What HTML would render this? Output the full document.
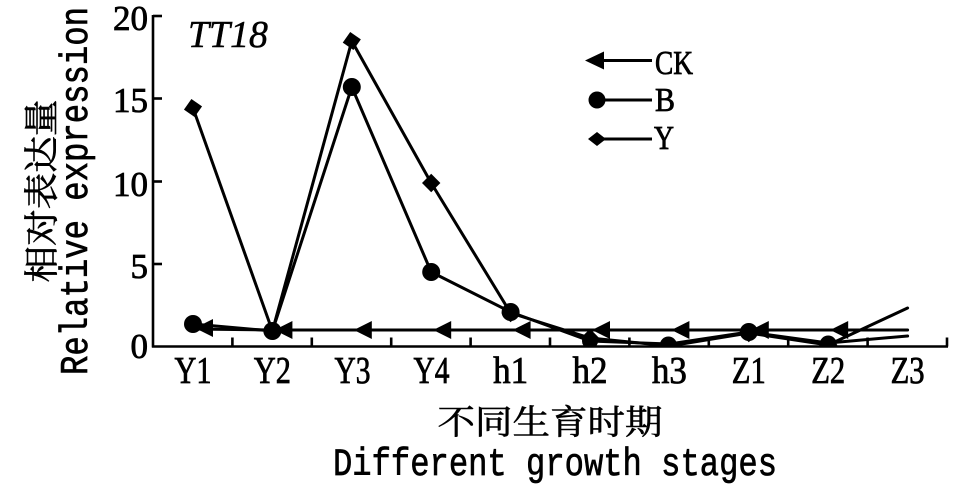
<!DOCTYPE html>
<html>
<head>
<meta charset="utf-8">
<style>
html,body{margin:0;padding:0;background:#fff;}
svg{display:block;}
</style>
</head>
<body>
<svg width="957" height="495" viewBox="0 0 957 495" xmlns="http://www.w3.org/2000/svg">
<defs>
<clipPath id="pc"><rect x="153" y="0" width="800" height="345.5"/></clipPath>
</defs>
<rect width="957" height="495" fill="#fff"/>

<!-- axes -->
<g stroke="#000" stroke-width="2.6" fill="none">
<line x1="153" y1="15" x2="153" y2="347.5"/>
<line x1="152" y1="346.5" x2="948" y2="346.5"/>
<line x1="153" y1="16" x2="162" y2="16"/>
<line x1="153" y1="98.5" x2="162" y2="98.5"/>
<line x1="153" y1="181.5" x2="162" y2="181.5"/>
<line x1="153" y1="264" x2="162" y2="264"/>
<line x1="232.4" y1="346.5" x2="232.4" y2="337.5"/>
<line x1="311.8" y1="346.5" x2="311.8" y2="337.5"/>
<line x1="391.2" y1="346.5" x2="391.2" y2="337.5"/>
<line x1="470.6" y1="346.5" x2="470.6" y2="337.5"/>
<line x1="550" y1="346.5" x2="550" y2="337.5"/>
<line x1="629.4" y1="346.5" x2="629.4" y2="337.5"/>
<line x1="708.8" y1="346.5" x2="708.8" y2="337.5"/>
<line x1="788.2" y1="346.5" x2="788.2" y2="337.5"/>
<line x1="867.6" y1="346.5" x2="867.6" y2="337.5"/>
<line x1="947" y1="346.5" x2="947" y2="337.5"/>
</g>

<!-- y tick labels -->
<g font-family="Liberation Serif, serif" font-size="35" fill="#000" stroke="#000" stroke-width="0.8" text-anchor="end">
<text x="148" y="30">20</text>
<text x="148" y="112">15</text>
<text x="148" y="196">10</text>
<text x="148" y="278">5</text>
<text x="148" y="358">0</text>
</g>

<!-- x tick labels -->
<g font-family="Liberation Serif, serif" font-size="38" fill="#000" stroke="#000" stroke-width="0.8" text-anchor="middle">
<text x="193" y="383" textLength="37" lengthAdjust="spacingAndGlyphs">Y1</text>
<text x="272.4" y="383" textLength="37" lengthAdjust="spacingAndGlyphs">Y2</text>
<text x="352.5" y="383" textLength="36" lengthAdjust="spacingAndGlyphs">Y3</text>
<text x="431.5" y="383" textLength="36" lengthAdjust="spacingAndGlyphs">Y4</text>
<text x="510.6" y="383" textLength="35" lengthAdjust="spacingAndGlyphs">h1</text>
<text x="590" y="383" textLength="35" lengthAdjust="spacingAndGlyphs">h2</text>
<text x="669.4" y="383" textLength="35" lengthAdjust="spacingAndGlyphs">h3</text>
<text x="748.8" y="383" textLength="34" lengthAdjust="spacingAndGlyphs">Z1</text>
<text x="828.2" y="383" textLength="34" lengthAdjust="spacingAndGlyphs">Z2</text>
<text x="907.6" y="383" textLength="34" lengthAdjust="spacingAndGlyphs">Z3</text>
</g>

<!-- TT18 -->
<text x="188" y="47" font-family="Liberation Serif, serif" font-style="italic" font-size="38" fill="#000" stroke="#000" stroke-width="0.5" textLength="80" lengthAdjust="spacingAndGlyphs">TT18</text>

<!-- series lines -->
<g stroke="#000" stroke-width="3" fill="none" stroke-linejoin="round" stroke-linecap="round">
<polyline points="193,329 272.4,330 351.8,330 431.2,330 510.6,330 590,330 669.4,330 748.8,330 828.2,330 907.6,330"/>
<polyline points="193,324 272.4,331 351.8,87 431.2,272 510.6,312 590,341 669.4,344 748.8,332 828.2,343 907.6,336"/>
<polyline points="193,108 272.4,331 351.8,41 431.2,183 510.6,313 590,338 669.4,346 748.8,333 828.2,345 907.6,308"/>
</g>

<!-- markers -->
<g clip-path="url(#pc)" fill="#000">
<polygon points="195,328 213,319 213,337"/>
<polygon points="274.4,330 292.4,321 292.4,339"/>
<polygon points="353.8,330 371.8,321 371.8,339"/>
<polygon points="433.2,330 451.2,321 451.2,339"/>
<polygon points="512.6,330 530.6,321 530.6,339"/>
<polygon points="592,330 610,321 610,339"/>
<polygon points="671.4,330 689.4,321 689.4,339"/>
<polygon points="750.8,330 768.8,321 768.8,339"/>
<polygon points="830.2,330 848.2,321 848.2,339"/>
<g>
<rect x="-6.5" y="-6.5" width="13" height="13" transform="translate(193,108) rotate(35)"/>
<rect x="-6.5" y="-6.5" width="13" height="13" transform="translate(272.4,331) rotate(35)"/>
<rect x="-6.5" y="-6.5" width="13" height="13" transform="translate(351.8,41) rotate(35)"/>
<rect x="-6.5" y="-6.5" width="13" height="13" transform="translate(431.2,183) rotate(45)"/>
<rect x="-6.5" y="-6.5" width="13" height="13" transform="translate(510.6,313) rotate(45)"/>
<rect x="-6.5" y="-6.5" width="13" height="13" transform="translate(590,338) rotate(45)"/>
<rect x="-6.5" y="-6.5" width="13" height="13" transform="translate(669.4,346) rotate(45)"/>
<rect x="-6.5" y="-6.5" width="13" height="13" transform="translate(748.8,333) rotate(45)"/>
<rect x="-6.5" y="-6.5" width="13" height="13" transform="translate(828.2,345) rotate(45)"/>
</g>
<circle cx="193" cy="324" r="9"/>
<circle cx="272.4" cy="331" r="9"/>
<circle cx="351.8" cy="87" r="9"/>
<circle cx="431.2" cy="272" r="9"/>
<circle cx="510.6" cy="312" r="9"/>
<circle cx="590" cy="341" r="8"/>
<circle cx="668.4" cy="345" r="8.5"/>
<circle cx="748.8" cy="332" r="9"/>
<circle cx="828.2" cy="344" r="8.5"/>
</g>

<!-- legend -->
<g stroke="#000" stroke-width="3" fill="none">
<line x1="600" y1="60.5" x2="652" y2="60.5"/>
<line x1="597" y1="100" x2="652" y2="100"/>
<line x1="597" y1="139" x2="652" y2="139"/>
</g>
<g fill="#000">
<polygon points="585,60.5 604,51.5 604,69.5"/>
<circle cx="597" cy="100" r="8.5"/>
<polygon points="597,132 606,139 597,146 588,139"/>
</g>
<g font-family="Liberation Serif, serif" font-size="34" fill="#000" stroke="#000" stroke-width="0.8">
<text x="655" y="74" textLength="38" lengthAdjust="spacingAndGlyphs">CK</text>
<text x="655" y="111" textLength="20" lengthAdjust="spacingAndGlyphs">B</text>
<text x="654" y="149" textLength="20" lengthAdjust="spacingAndGlyphs">Y</text>
</g>

<!-- x-axis titles -->
<text x="550" y="434" font-family="Liberation Serif, 'Noto Serif CJK SC', 'Noto Sans CJK SC', serif" font-size="34" fill="#000" stroke="#000" stroke-width="0.6" text-anchor="middle" textLength="225" lengthAdjust="spacingAndGlyphs">不同生育时期</text>
<text x="555" y="475" font-family="Liberation Mono, monospace" font-size="39" fill="#000" stroke="#000" stroke-width="0.7" text-anchor="middle" textLength="444" lengthAdjust="spacingAndGlyphs">Different growth stages</text>

<!-- y-axis titles -->
<text transform="translate(54,191) rotate(-90)" font-family="Liberation Serif, 'Noto Serif CJK SC', 'Noto Sans CJK SC', serif" font-size="35" fill="#000" stroke="#000" stroke-width="0.6" text-anchor="middle" textLength="183" lengthAdjust="spacingAndGlyphs">相对表达量</text>
<text transform="translate(87,191) rotate(-90)" font-family="Liberation Mono, monospace" font-size="39" fill="#000" stroke="#000" stroke-width="0.7" text-anchor="middle" textLength="368" lengthAdjust="spacingAndGlyphs">Relative expression</text>
</svg>
</body>
</html>
